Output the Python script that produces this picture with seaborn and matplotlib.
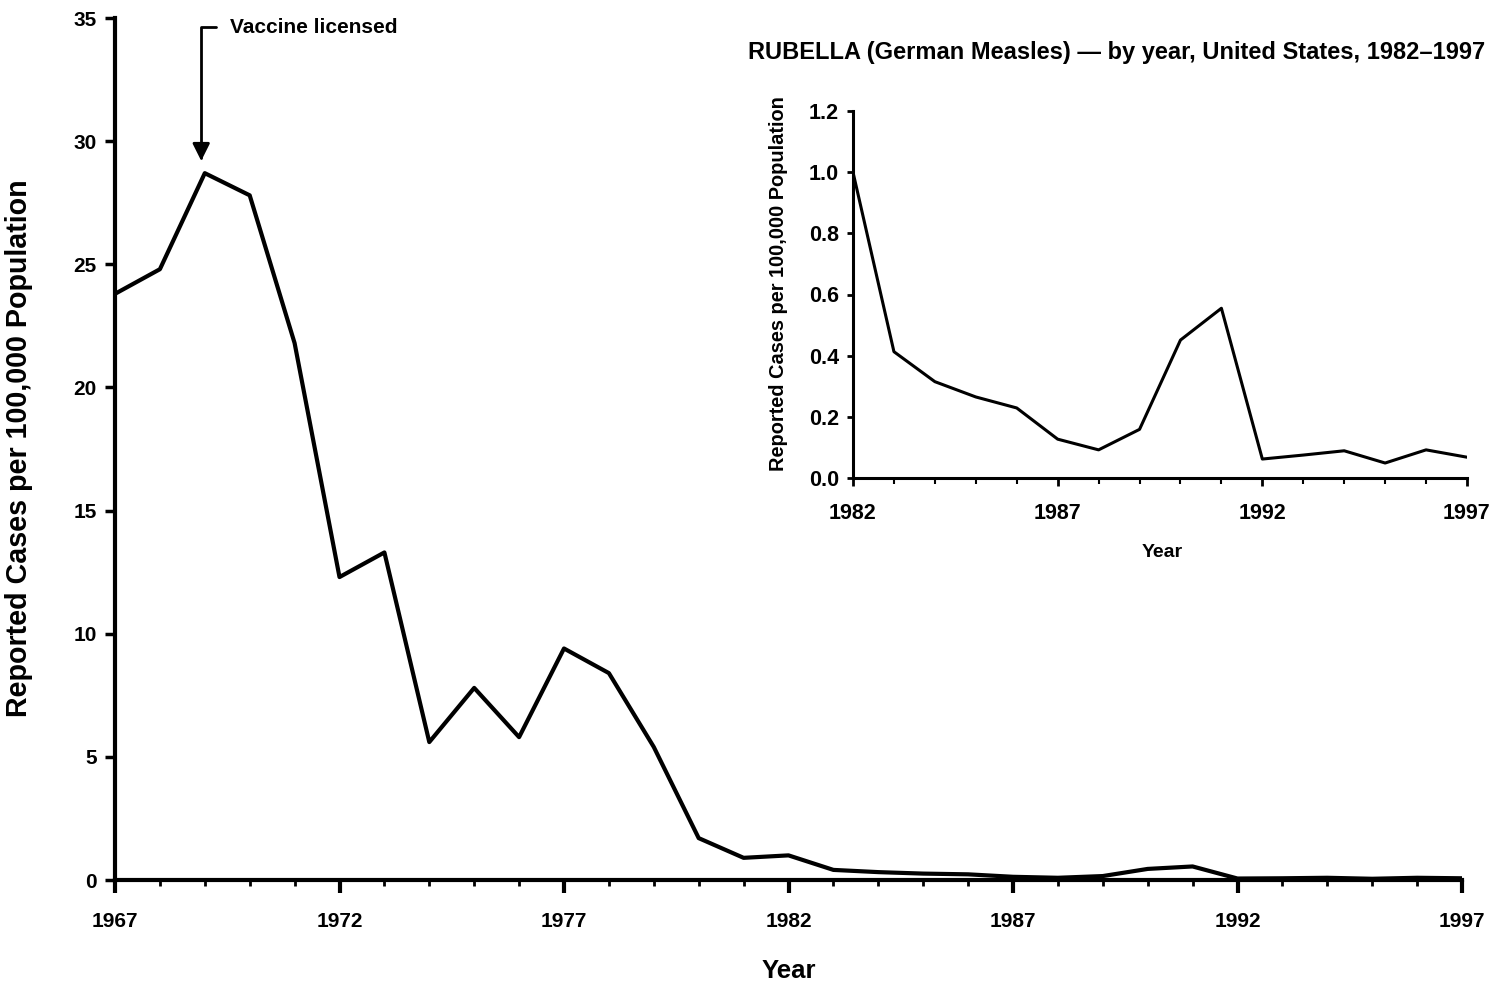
import pandas as pd
import matplotlib.pyplot as plt
import matplotlib.ticker as mticker
import seaborn as sns

# === data ===
years_main = list(range(1967, 1998))
rate_main = [23.8, 24.8, 28.7, 27.8, 21.8, 12.3, 13.3, 5.6, 7.8, 5.8,
             9.4, 8.4, 5.4, 1.7, 0.9, 1.0, 0.41, 0.32, 0.26, 0.23,
             0.13, 0.09, 0.16, 0.45, 0.55, 0.06, 0.07, 0.09, 0.05, 0.09, 0.07]

years_inset = list(range(1982, 1998))
rate_inset = [1.0, 0.413, 0.315, 0.265, 0.229, 0.127, 0.092, 0.159,
              0.451, 0.555, 0.062, 0.075, 0.089, 0.049, 0.092, 0.068]

main_df = pd.DataFrame({"Year": years_main, "Rate": rate_main})
inset_df = pd.DataFrame({"Year": years_inset, "Rate": rate_inset})

sns.set_theme(style="ticks")
plt.rcParams["font.family"] = ["Liberation Sans", "DejaVu Sans"]
plt.rcParams["font.weight"] = "bold"
for key in ["text.color", "axes.labelcolor", "xtick.color", "ytick.color", "axes.edgecolor"]:
    plt.rcParams[key] = "black"

W, H = 1496, 990
fig = plt.figure(figsize=(W / 100, H / 100), dpi=100)

# === main chart ===
ax = fig.add_axes([115 / W, 1 - 880 / H, (1462 - 115) / W, (880 - 18) / H])
sns.lineplot(data=main_df, x="Year", y="Rate", ax=ax, color="black", linewidth=3.0)
ax.set_xlim(1967, 1997)
ax.set_ylim(0, 35)
ax.set_xticks(range(1967, 1998, 5))
ax.xaxis.set_minor_locator(mticker.MultipleLocator(1))
ax.set_yticks(range(0, 36, 5))
for s in ["top", "right"]:
    ax.spines[s].set_visible(False)
for s in ["left", "bottom"]:
    ax.spines[s].set_linewidth(3.0)
ax.tick_params(axis="x", which="major", length=9, width=3.0, pad=14, labelsize=15)
ax.tick_params(axis="x", which="minor", length=4, width=2.0)
ax.tick_params(axis="y", which="major", length=7, width=2.5, pad=6, labelsize=15)
for lab in ax.get_xticklabels() + ax.get_yticklabels():
    lab.set_fontweight("bold")
ax.set_xlabel("Year", fontsize=18.5, fontweight="bold")
ax.xaxis.set_label_coords(0.5, -0.092)
ax.set_ylabel("Reported Cases per 100,000 Population", fontsize=20.6, fontweight="bold")
ax.yaxis.set_label_coords(-0.061, 0.5006)

ax.annotate("Vaccine licensed", xy=(1968.92, 29.2), xytext=(1969.56, 34.63),
            ha="left", va="center", fontsize=15, fontweight="bold",
            arrowprops=dict(arrowstyle="-|>", color="black", lw=2.0, mutation_scale=26,
                            connectionstyle="angle,angleA=0,angleB=90,rad=0",
                            relpos=(0, 0.5), shrinkA=8, shrinkB=0))

# === inset chart ===
ax2 = fig.add_axes([853 / W, 1 - 478 / H, (1467 - 853) / W, (478 - 111) / H])
sns.lineplot(data=inset_df, x="Year", y="Rate", ax=ax2, color="black", linewidth=2.2)
ax2.set_xlim(1982, 1997)
ax2.set_ylim(0, 1.2)
ax2.set_xticks(range(1982, 1998, 5))
ax2.xaxis.set_minor_locator(mticker.MultipleLocator(1))
ax2.set_yticks([0.0, 0.2, 0.4, 0.6, 0.8, 1.0, 1.2])
ax2.yaxis.set_major_formatter(mticker.FormatStrFormatter("%.1f"))
for s in ["top", "right"]:
    ax2.spines[s].set_visible(False)
for s in ["left", "bottom"]:
    ax2.spines[s].set_linewidth(2.2)
ax2.tick_params(axis="x", which="major", length=6, width=2.0, pad=12, labelsize=15.5)
ax2.tick_params(axis="x", which="minor", length=4, width=1.5)
ax2.tick_params(axis="y", which="major", length=4, width=2.0, pad=6, labelsize=15.5)
for lab in ax2.get_xticklabels() + ax2.get_yticklabels():
    lab.set_fontweight("bold")
ax2.set_xlabel("Year", fontsize=14, fontweight="bold")
ax2.xaxis.set_label_coords(0.503, -0.18)
ax2.set_ylabel("Reported Cases per 100,000 Population", fontsize=14.4, fontweight="bold")
ax2.yaxis.set_label_coords(-0.106, 0.5286)

fig.text(748 / W, 1 - 53 / H, "RUBELLA (German Measles) \u2014 by year, United States, 1982\u20131997",
         ha="left", va="center", fontsize=17, fontweight="bold")

fig.savefig("out.png", dpi=100)
